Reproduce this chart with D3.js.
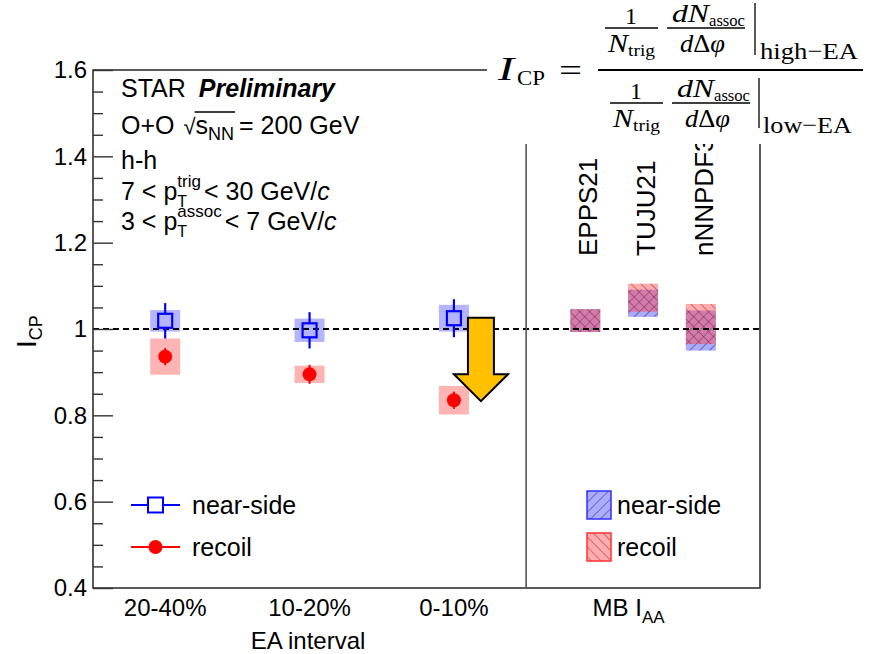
<!DOCTYPE html>
<html><head><meta charset="utf-8">
<script src="https://cdn.jsdelivr.net/npm/d3@7"></script>
<style>body{margin:0;background:#fff}svg{display:block}</style>
</head><body>
<svg id="c" width="875" height="654"></svg>
<script>
// ---- data ----
const categories = ["20-40%", "10-20%", "0-10%"];
const catPos = [0.5, 1.5, 2.5];
const nearVal = [1.019, 0.997, 1.025];
const nearStat = [0.041, 0.042, 0.044];
const nearSys = [0.025, 0.027, 0.031];
const recoilVal = [0.936, 0.895, 0.835];
const recoilStat = [0.020, 0.022, 0.020];
const recoilSys = [0.042, 0.020, 0.033];
const models = ["EPPS21", "TUJU21", "nNNPDF3.0"];
const modelPos = [3.41, 3.81, 4.21];
const modelNearLo = [0.993, 1.028, 0.950];
const modelNearHi = [1.046, 1.091, 1.043];
const modelRecoilLo = [0.993, 1.040, 0.965];
const modelRecoilHi = [1.046, 1.105, 1.058];
const yMajor = [0.4, 0.6, 0.8, 1.0, 1.2, 1.4, 1.6];
const yMinor = d3.range(0.45, 1.6, 0.05).filter(v => Math.abs(Math.round(v / 0.2) * 0.2 - v) > 0.01);
// arrow annotation (data units)
const arrowX = 2.687, arrowTop = 1.026, arrowHeadBase = 0.895, arrowTip = 0.833;
const arrowShaftHalf = 0.09, arrowHeadHalf = 0.187;

// ---- layout ----
const svg = d3.select("#c");
const L = 93, R = 760, T = 70, B = 588;
const x = d3.scaleLinear().domain([0, 4.62]).range([L, R]);
const y = d3.scaleLinear().domain([0.4, 1.6]).range([B, T]);
const SANS = "'Liberation Sans', Arial, Helvetica, sans-serif";
const SERIF = "'Liberation Serif', 'Times New Roman', serif";

// patterns
const defs = svg.append("defs");
function hatch(id, bg, line, rot) {
  const p = defs.append("pattern").attr("id", id).attr("patternUnits", "userSpaceOnUse")
    .attr("width", 7).attr("height", 7).attr("patternTransform", `rotate(${rot})`);
  p.append("rect").attr("width", 7).attr("height", 7).attr("fill", bg);
  p.append("line").attr("x1", 0).attr("y1", 0).attr("x2", 0).attr("y2", 7)
    .attr("stroke", line).attr("stroke-width", 1.2);
}
hatch("hBlue", "rgba(70,70,255,0.45)", "rgba(20,20,90,0.75)", 45);
hatch("hRed", "rgba(255,60,60,0.42)", "rgba(150,0,30,0.7)", -45);

// theory labels (drawn before white formula box, clipped by it)
const labG = svg.append("g").attr("font-family", SANS).attr("font-size", 26).attr("fill", "#000");
labG.selectAll("text").data(models).join("text")
  .attr("transform", (d, i) => `translate(${x(modelPos[i]) + 12},256) rotate(-90)`)
  .text(d => d);

// systematic boxes (data)
const bw = 15;
svg.append("g").selectAll("rect").data(categories).join("rect")
  .attr("x", (d, i) => x(catPos[i]) - bw).attr("width", 2 * bw)
  .attr("y", (d, i) => y(nearVal[i] + nearSys[i]))
  .attr("height", (d, i) => y(nearVal[i] - nearSys[i]) - y(nearVal[i] + nearSys[i]))
  .attr("fill", "#b4b4ff");
svg.append("g").selectAll("rect").data(categories).join("rect")
  .attr("x", (d, i) => x(catPos[i]) - bw).attr("width", 2 * bw)
  .attr("y", (d, i) => y(recoilVal[i] + recoilSys[i]))
  .attr("height", (d, i) => y(recoilVal[i] - recoilSys[i]) - y(recoilVal[i] + recoilSys[i]))
  .attr("fill", "#ffb4b4");

// theory boxes
svg.append("g").selectAll("rect").data(models).join("rect")
  .attr("x", (d, i) => x(modelPos[i]) - bw).attr("width", 2 * bw)
  .attr("y", (d, i) => y(modelNearHi[i])).attr("height", (d, i) => y(modelNearLo[i]) - y(modelNearHi[i]))
  .attr("fill", "url(#hBlue)");
svg.append("g").selectAll("rect").data(models).join("rect")
  .attr("x", (d, i) => x(modelPos[i]) - bw).attr("width", 2 * bw)
  .attr("y", (d, i) => y(modelRecoilHi[i])).attr("height", (d, i) => y(modelRecoilLo[i]) - y(modelRecoilHi[i]))
  .attr("fill", "url(#hRed)");

// dashed unity line
svg.append("line").attr("x1", L).attr("x2", R).attr("y1", y(1)).attr("y2", y(1))
  .attr("stroke", "#000").attr("stroke-width", 2).attr("stroke-dasharray", "6,4");

// near-side markers
const sq = 7;
const nearG = svg.append("g").attr("stroke", "#0000ff").attr("stroke-width", 2.2).attr("fill", "none");
categories.forEach((c, i) => {
  const cx = x(catPos[i]), cy = y(nearVal[i]);
  nearG.append("line").attr("x1", cx).attr("x2", cx).attr("y1", y(nearVal[i] + nearStat[i])).attr("y2", cy - sq);
  nearG.append("line").attr("x1", cx).attr("x2", cx).attr("y1", cy + sq).attr("y2", y(nearVal[i] - nearStat[i]));
  nearG.append("rect").attr("x", cx - sq).attr("y", cy - sq).attr("width", 2 * sq).attr("height", 2 * sq);
});
// recoil markers
const recG = svg.append("g");
categories.forEach((c, i) => {
  const cx = x(catPos[i]);
  recG.append("line").attr("x1", cx).attr("x2", cx)
    .attr("y1", y(recoilVal[i] + recoilStat[i])).attr("y2", y(recoilVal[i] - recoilStat[i]))
    .attr("stroke", "#ff0000").attr("stroke-width", 2);
  recG.append("circle").attr("cx", cx).attr("cy", y(recoilVal[i])).attr("r", 7).attr("fill", "#ff0000");
});

// arrow
const ap = [
  [arrowX - arrowShaftHalf, arrowTop], [arrowX + arrowShaftHalf, arrowTop],
  [arrowX + arrowShaftHalf, arrowHeadBase], [arrowX + arrowHeadHalf, arrowHeadBase],
  [arrowX, arrowTip],
  [arrowX - arrowHeadHalf, arrowHeadBase], [arrowX - arrowShaftHalf, arrowHeadBase]
];
svg.append("polygon").attr("points", ap.map(p => [x(p[0]), y(p[1])].join(",")).join(" "))
  .attr("fill", "#ffc000").attr("stroke", "#000").attr("stroke-width", 2).attr("stroke-linejoin", "miter");

// frame
const fr = svg.append("g").attr("stroke", "#333").attr("stroke-width", 1.6).attr("fill", "none");
fr.append("rect").attr("x", L).attr("y", T).attr("width", R - L).attr("height", B - T);
fr.append("line").attr("x1", x(3)).attr("x2", x(3)).attr("y1", T).attr("y2", B).attr("stroke", "#555");

// y axis
const ax = svg.append("g").attr("transform", `translate(${L},0)`)
  .call(d3.axisLeft(y).tickValues(yMajor).tickSize(-20).tickPadding(6)
    .tickFormat(d => Math.abs(d - 1) < 1e-9 ? "1" : d3.format(".1f")(d)));
ax.select(".domain").remove();
ax.selectAll("line").attr("stroke", "#333").attr("stroke-width", 1.4);
ax.selectAll("text").attr("font-family", SANS).attr("font-size", 24).attr("fill", "#000");
const axm = svg.append("g").attr("transform", `translate(${L},0)`)
  .call(d3.axisLeft(y).tickValues(yMinor).tickSize(-10).tickFormat(""));
axm.select(".domain").remove();
axm.selectAll("line").attr("stroke", "#333").attr("stroke-width", 1.4);

// y label
const yl = svg.append("text").attr("transform", "translate(36,348) rotate(-90)")
  .attr("font-family", SANS).attr("font-size", 28);
yl.append("tspan").text("I");
yl.append("tspan").attr("font-size", 18).attr("dy", 6).text("CP");

// x category labels
const xl = svg.append("g").attr("font-family", SANS).attr("font-size", 24).attr("text-anchor", "middle");
xl.selectAll("text").data(categories).join("text")
  .attr("x", (d, i) => x(catPos[i])).attr("y", 616).text(d => d);
const mb = svg.append("text").attr("x", x(3.71)).attr("y", 616).attr("text-anchor", "middle")
  .attr("font-family", SANS).attr("font-size", 24);
mb.append("tspan").text("MB I");
mb.append("tspan").attr("font-size", 17).attr("dy", 7).text("AA");
svg.append("text").attr("x", 308).attr("y", 649).attr("text-anchor", "middle")
  .attr("font-family", SANS).attr("font-size", 24).text("EA interval");

// rich text helper
function piece(g, px, py, t, size, opts = {}) {
  const el = g.append("text").attr("x", px).attr("y", py).attr("font-size", size).text(t);
  if (opts.style) el.attr("font-style", opts.style);
  if (opts.weight) el.attr("font-weight", opts.weight);
  if (opts.anchor) el.attr("text-anchor", opts.anchor);
  if (opts.w) el.attr("textLength", opts.w).attr("lengthAdjust", "spacingAndGlyphs");
  return opts.w || el.node().getComputedTextLength();
}
const info = svg.append("g").attr("font-family", SANS).attr("fill", "#000");
let cx = 121;
cx += piece(info, cx, 97, "STAR", 25);
piece(info, cx + 13, 97, "Preliminary", 25, { style: "italic", weight: "bold" });
cx = 121;
cx += piece(info, cx, 134, "O+O", 25);
cx += 9;
cx += piece(info, cx, 134, "\u221A", 22);
const sx0 = cx;
cx += piece(info, cx, 134, "s", 25);
cx += piece(info, cx, 140, "NN", 18);
info.append("line").attr("x1", sx0 - 1).attr("x2", cx + 1).attr("y1", 112).attr("y2", 112)
  .attr("stroke", "#000").attr("stroke-width", 1.3);
piece(info, cx + 5, 134, "= 200 GeV", 25);
piece(info, 121, 169, "h-h", 25);
function ptLine(yb, lo, sup, hi) {
  let px = 121;
  px += piece(info, px, yb, lo + " < p", 25);
  const w1 = piece(info, px, yb - 13, sup, 17);
  const w2 = piece(info, px, yb + 7, "T", 16);
  px += Math.max(w1, w2) + 3;
  px += piece(info, px, yb, "< " + hi + " GeV/", 25);
  piece(info, px, yb, "c", 25, { style: "italic" });
}
ptLine(200, "7", "trig", "30");
ptLine(230, "3", "assoc", "7");

// left legend
const lg = svg.append("g");
[["near-side", 505], ["recoil", 547]].forEach(([lab, ly], k) => {
  const col = k === 0 ? "#0000ff" : "#ff0000";
  lg.append("line").attr("x1", 131).attr("x2", 180).attr("y1", ly).attr("y2", ly).attr("stroke", col).attr("stroke-width", 2);
  if (k === 0) lg.append("rect").attr("x", 148).attr("y", ly - 7.5).attr("width", 15).attr("height", 15)
    .attr("fill", "#fff").attr("stroke", col).attr("stroke-width", 2);
  else lg.append("circle").attr("cx", 155.5).attr("cy", ly).attr("r", 7).attr("fill", col);
  lg.append("text").attr("x", 192).attr("y", ly + 9).attr("font-family", SANS).attr("font-size", 25).text(lab);
});
// right legend
[["near-side", 505, "url(#hBlue)", "#3030ff"], ["recoil", 547, "url(#hRed)", "#ff3030"]].forEach(([lab, ly, f, s]) => {
  lg.append("rect").attr("x", 587).attr("y", ly - 14).attr("width", 24).attr("height", 28)
    .attr("fill", f).attr("stroke", s).attr("stroke-width", 1.5);
  lg.append("text").attr("x", 617).attr("y", ly + 9).attr("font-family", SANS).attr("font-size", 25).text(lab);
});

// formula (white box over frame)
svg.append("rect").attr("x", 487).attr("y", 0).attr("width", 388).attr("height", 144).attr("fill", "#fff");
const fm = svg.append("g").attr("font-family", SERIF).attr("fill", "#000");
piece(fm, 498, 80, "I", 34, { style: "italic", w: 16 });
piece(fm, 517, 85, "CP", 22, { w: 28 });
piece(fm, 559, 81, "=", 32, { w: 23 });
const fl = (x1, x2, yy, w) => fm.append("line").attr("x1", x1).attr("x2", x2).attr("y1", yy).attr("y2", yy)
  .attr("stroke", "#000").attr("stroke-width", w);
const vl = (xx, y1, y2) => fm.append("line").attr("x1", xx).attr("x2", xx).attr("y1", y1).attr("y2", y2)
  .attr("stroke", "#000").attr("stroke-width", 1.3);
fl(598, 863, 70, 1.8);
function smallFrac(ox, oy) {
  piece(fm, ox + 26, oy - 4, "1", 24, { anchor: "middle" });
  fl(ox, ox + 53, oy, 1.3);
  piece(fm, ox + 3, oy + 24, "N", 26, { style: "italic", w: 20 });
  piece(fm, ox + 23, oy + 28, "trig", 17, { w: 27 });
  piece(fm, ox + 67, oy - 6, "dN", 26, { style: "italic", w: 37 });
  piece(fm, ox + 104, oy - 2, "assoc", 17, { w: 36 });
  fl(ox + 62, ox + 140, oy, 1.3);
  const t = fm.append("text").attr("x", ox + 75).attr("y", oy + 24).attr("font-size", 25)
    .attr("textLength", 45).attr("lengthAdjust", "spacingAndGlyphs");
  t.append("tspan").attr("font-style", "italic").text("d");
  t.append("tspan").text("\u0394");
  t.append("tspan").attr("font-style", "italic").text("\u03C6");
}
smallFrac(605, 28);
vl(755, 3, 55);
piece(fm, 760, 59, "high\u2212EA", 24, { w: 98 });
smallFrac(610, 103);
vl(759, 78, 128);
piece(fm, 763, 133, "low\u2212EA", 24, { w: 89 });
</script>
</body></html>
